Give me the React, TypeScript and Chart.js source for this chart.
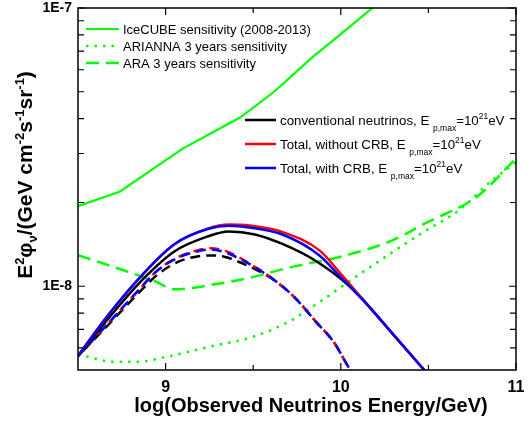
import React, { useEffect, useRef } from 'react';
import { Chart, registerables } from 'chart.js';

Chart.register(...registerables);

const FONT = '"Liberation Sans", Arial, Helvetica, sans-serif';

// Axis ranges and ticks
const X_MIN = 8.5;
const X_MAX = 11;
const Y_MIN = 5e-9;
const Y_MAX = 1e-7;
const xMajorTicks = [9, 10, 11];
const xMinorTicks = [9.5, 10.5];
const xTickLabels = ['9', '10', '11'];
const yMajorTicks = [1e-8, 1e-7];
const yMinorTicks = [6e-9, 7e-9, 8e-9, 9e-9, 2e-8, 3e-8, 4e-8, 5e-8, 6e-8, 7e-8, 8e-8, 9e-8];
const yTickLabels = ['1E-8', '1E-7'];

// IceCUBE sensitivity (2008-2013)
const icecubeE = [8.5, 8.74, 8.92, 9.1, 9.425, 9.62, 9.84, 9.995, 10.18, 10.4];
const icecubeFlux = [1.94e-8, 2.19e-8, 2.62e-8, 3.13e-8, 4.04e-8, 5.0e-8, 6.67e-8, 8.0e-8, 1.0e-7, 1.32e-7];

// ARIANNA 3 years sensitivity
const ariannaE = [8.5, 8.71, 8.84, 9.0, 9.24, 9.51, 9.71, 9.9, 10.09, 10.26, 10.45, 10.68, 10.85, 11.0];
const ariannaFlux = [5.7e-9, 5.35e-9, 5.35e-9, 5.57e-9, 6.04e-9, 6.62e-9, 7.5e-9, 8.97e-9, 1.086e-8, 1.282e-8, 1.535e-8, 1.888e-8, 2.36e-8, 2.79e-8];

// ARA 3 years sensitivity
const araE = [8.5, 8.71, 8.94, 9.05, 9.28, 9.49, 9.71, 10.01, 10.28, 10.49, 10.78, 11.0];
const araFlux = [1.294e-8, 1.169e-8, 1.042e-8, 9.75e-9, 1.016e-8, 1.076e-8, 1.169e-8, 1.282e-8, 1.449e-8, 1.694e-8, 2.104e-8, 2.88e-8];

// Solid curves
const convE = [8.5, 8.67, 8.87, 9.05, 9.24, 9.36, 9.51, 9.67, 9.86, 10.05, 10.15, 10.3, 10.47, 10.6];
const convFlux = [5.61e-9, 7.62e-9, 1.059e-8, 1.334e-8, 1.51e-8, 1.574e-8, 1.535e-8, 1.416e-8, 1.23e-8, 1.0e-8, 8.61e-9, 6.7e-9, 5.05e-9, 4.07e-9];
const totalE = [8.5, 8.67, 8.87, 9.05, 9.24, 9.36, 9.48, 9.67, 9.88, 10.0, 10.15, 10.3, 10.47, 10.6];
const noCrbFlux = [5.61e-9, 7.85e-9, 1.104e-8, 1.416e-8, 1.611e-8, 1.667e-8, 1.652e-8, 1.563e-8, 1.343e-8, 1.109e-8, 8.61e-9, 6.7e-9, 5.05e-9, 4.07e-9];
const withCrbFlux = [5.61e-9, 7.85e-9, 1.104e-8, 1.416e-8, 1.605e-8, 1.648e-8, 1.626e-8, 1.531e-8, 1.288e-8, 1.076e-8, 8.61e-9, 6.7e-9, 5.05e-9, 4.07e-9];

// Dashed curves
const dashE = [8.5, 8.67, 8.83, 8.96, 9.08, 9.18, 9.26, 9.34, 9.42, 9.5, 9.6, 9.73, 9.86, 9.96, 10.05, 10.1];
const convDashFlux = [5.61e-9, 7.24e-9, 9.23e-9, 1.109e-8, 1.23e-8, 1.279e-8, 1.291e-8, 1.274e-8, 1.222e-8, 1.161e-8, 1.072e-8, 9.2e-9, 7.43e-9, 6.3e-9, 5.05e-9, 4.57e-9];
const noCrbDashFlux = [5.61e-9, 7.33e-9, 9.44e-9, 1.15e-8, 1.28e-8, 1.345e-8, 1.37e-8, 1.34e-8, 1.27e-8, 1.185e-8, 1.078e-8, 9.2e-9, 7.43e-9, 6.3e-9, 5.05e-9, 4.57e-9];
const withCrbDashFlux = [5.61e-9, 7.33e-9, 9.44e-9, 1.148e-8, 1.274e-8, 1.334e-8, 1.355e-8, 1.324e-8, 1.259e-8, 1.18e-8, 1.076e-8, 9.2e-9, 7.43e-9, 6.3e-9, 5.05e-9, 4.57e-9];

type Seg = { t: string; k?: 'sup' | 'sub' };

const xTitle = 'log(Observed Neutrinos Energy/GeV)';
const yTitle: Seg[] = [
  { t: 'E' }, { t: '2', k: 'sup' }, { t: 'φ' }, { t: 'ν', k: 'sub' }, { t: '/(GeV cm' },
  { t: '-2', k: 'sup' }, { t: 's' }, { t: '-1', k: 'sup' }, { t: 'sr' }, { t: '-1', k: 'sup' }, { t: ')' },
];
const pmaxLabel = (name: string): Seg[] => [
  { t: name + ', E ' }, { t: 'p,max', k: 'sub' }, { t: '=10' }, { t: '21', k: 'sup' }, { t: 'eV' },
];
const legendTopLeft: { ds: number; segs: Seg[] }[] = [
  { ds: 6, segs: [{ t: 'IceCUBE sensitivity (2008-2013)' }] },
  { ds: 7, segs: [{ t: 'ARIANNA 3 years sensitivity' }] },
  { ds: 8, segs: [{ t: 'ARA 3 years sensitivity' }] },
];
const legendRight: { ds: number; segs: Seg[] }[] = [
  { ds: 2, segs: pmaxLabel('conventional neutrinos') },
  { ds: 1, segs: pmaxLabel('Total, without CRB') },
  { ds: 0, segs: pmaxLabel('Total, with CRB') },
];

const pts = (xs: number[], ys: number[]) => xs.map((x, i) => ({ x, y: ys[i] }));

function drawRich(
  ctx: CanvasRenderingContext2D, segs: Seg[], x: number, baseline: number,
  size: number, small: number, weight: string, supShift: number, subShift: number, measureOnly = false
): number {
  let cx = x;
  ctx.textAlign = 'left';
  ctx.textBaseline = 'alphabetic';
  ctx.fillStyle = '#000';
  for (const s of segs) {
    const fs = s.k ? small : size;
    ctx.font = `${weight} ${fs}px ${FONT}`;
    const dy = s.k === 'sup' ? -supShift : s.k === 'sub' ? subShift : 0;
    if (!measureOnly) ctx.fillText(s.t, cx, baseline + dy);
    cx += ctx.measureText(s.t).width;
  }
  return cx - x;
}

const decorPlugin = {
  id: 'decor',
  afterDraw(chart: any) {
    const { ctx, chartArea: a, scales } = chart;
    const xs = scales.x;
    const ys = scales.y;
    ctx.save();
    // frame
    ctx.strokeStyle = '#000';
    ctx.lineWidth = 1.5;
    ctx.strokeRect(a.left, a.top, a.right - a.left, a.bottom - a.top);
    // inward ticks on all four sides
    ctx.lineWidth = 1.2;
    const tick = (len: number, vals: number[], horiz: boolean) => {
      for (const v of vals) {
        ctx.beginPath();
        if (horiz) {
          const px = xs.getPixelForValue(v);
          ctx.moveTo(px, a.bottom); ctx.lineTo(px, a.bottom - len);
          ctx.moveTo(px, a.top); ctx.lineTo(px, a.top + len);
        } else {
          const py = ys.getPixelForValue(v);
          ctx.moveTo(a.left, py); ctx.lineTo(a.left + len, py);
          ctx.moveTo(a.right, py); ctx.lineTo(a.right - len, py);
        }
        ctx.stroke();
      }
    };
    tick(7, xMajorTicks, true);
    tick(5, xMinorTicks, true);
    tick(7, yMajorTicks, false);
    tick(6, yMinorTicks, false);

    // axis titles
    ctx.font = `bold 20px ${FONT}`;
    ctx.fillStyle = '#000';
    ctx.textAlign = 'center';
    ctx.textBaseline = 'middle';
    ctx.fillText(xTitle, (a.left + a.right) / 2 + 14, a.bottom + 36);

    ctx.save();
    ctx.translate(25, (a.top + a.bottom) / 2 - 14);
    ctx.rotate(-Math.PI / 2);
    const w = drawRich(ctx, yTitle, 0, 0, 21, 13, 'bold', 8, 5, true);
    drawRich(ctx, yTitle, -w / 2, 7, 21, 13, 'bold', 8, 5);
    ctx.restore();

    // legends
    const legend = (items: { ds: number; segs: Seg[] }[], x0: number, x1: number, y0: number, dy: number,
      size: number, small: number) => {
      items.forEach((it, i) => {
        const ds = chart.data.datasets[it.ds];
        const y = y0 + i * dy;
        ctx.save();
        ctx.strokeStyle = ds.borderColor;
        ctx.lineWidth = ds.borderWidth;
        ctx.setLineDash(ds.borderDash || []);
        ctx.beginPath();
        ctx.moveTo(x0, y);
        ctx.lineTo(x1, y);
        ctx.stroke();
        ctx.restore();
        drawRich(ctx, it.segs, x1 + 4, y + size * 0.36, size, small, 'normal', 6, 6);
      });
    };
    legend(legendTopLeft, a.left + 8, a.left + 41, a.top + 21, 17, 13, 8.5);
    legend(legendRight, a.left + 167, a.left + 198, a.top + 112, 24, 13.3, 8.5);
    ctx.restore();
  },
};

const line = (label: string, data: any[], color: string, width: number, dash: number[], offset = 0, smooth = true) => ({
  label,
  data,
  borderColor: color,
  backgroundColor: color,
  borderWidth: width,
  borderDash: dash,
  borderDashOffset: offset,
  pointRadius: 0,
  tension: smooth ? 0.4 : 0,
  cubicInterpolationMode: smooth ? 'monotone' : 'default',
  fill: false,
  clip: 0,
});

export default function App() {
  const ref = useRef<HTMLCanvasElement | null>(null);
  useEffect(() => {
    if (!ref.current) return;
    const chart = new Chart(ref.current, {
      type: 'line',
      data: {
        datasets: [
          line('Total, with CRB', pts(totalE, withCrbFlux), '#0000ff', 2.5, []),
          line('Total, without CRB', pts(totalE, noCrbFlux), '#ff0000', 2.5, []),
          line('conventional neutrinos', pts(convE, convFlux), '#000000', 2.5, []),
          line('Total, with CRB (dashed)', pts(dashE, withCrbDashFlux), '#0000ff', 2.5, [10, 6], 0),
          line('Total, without CRB (dashed)', pts(dashE, noCrbDashFlux), '#ff0000', 2.5, [10, 6], 2),
          line('conventional (dashed)', pts(dashE, convDashFlux), '#000000', 2.5, [10, 6], 9),
          line('IceCUBE sensitivity (2008-2013)', pts(icecubeE, icecubeFlux), '#00ff00', 2.2, [], 0, false),
          line('ARIANNA 3 years sensitivity', pts(ariannaE, ariannaFlux), '#00ff00', 2.5, [2.5, 6]),
          line('ARA 3 years sensitivity', pts(araE, araFlux), '#00ff00', 2.5, [13, 7]),
        ] as any,
      },
      options: {
        animation: false,
        responsive: true,
        maintainAspectRatio: false,
        layout: { padding: { top: 8, right: 16, left: 0, bottom: 0 } },
        plugins: { legend: { display: false }, tooltip: { enabled: false } },
        scales: {
          x: {
            type: 'linear',
            min: X_MIN,
            max: X_MAX,
            grid: { display: false, drawTicks: false },
            border: { display: false },
            ticks: {
              autoSkip: false,
              maxRotation: 0,
              padding: 8,
              color: '#000',
              font: { family: FONT, size: 16, weight: 'bold' },
              callback: (_v: any, i: number) => xTickLabels[i],
            },
            afterBuildTicks: (s: any) => { s.ticks = xMajorTicks.map((v) => ({ value: v })); },
            afterFit: (s: any) => { s.height = 60; s.paddingLeft = 0; s.paddingRight = 0; },
          },
          y: {
            type: 'logarithmic',
            min: Y_MIN,
            max: Y_MAX,
            grid: { display: false, drawTicks: false },
            border: { display: false },
            ticks: {
              autoSkip: false,
              padding: 6,
              color: '#000',
              font: { family: FONT, size: 14, weight: 'bold' },
              callback: (_v: any, i: number) => yTickLabels[i],
            },
            afterBuildTicks: (s: any) => { s.ticks = yMajorTicks.map((v) => ({ value: v })); },
            afterFit: (s: any) => { s.width = 78; s.paddingTop = 0; s.paddingBottom = 0; },
          },
        },
      } as any,
      plugins: [decorPlugin],
    });
    return () => chart.destroy();
  }, []);

  return (
    <div style={{ position: 'absolute', left: 0, top: 0, width: 532, height: 430, background: '#fff' }}>
      <canvas ref={ref} />
    </div>
  );
}
